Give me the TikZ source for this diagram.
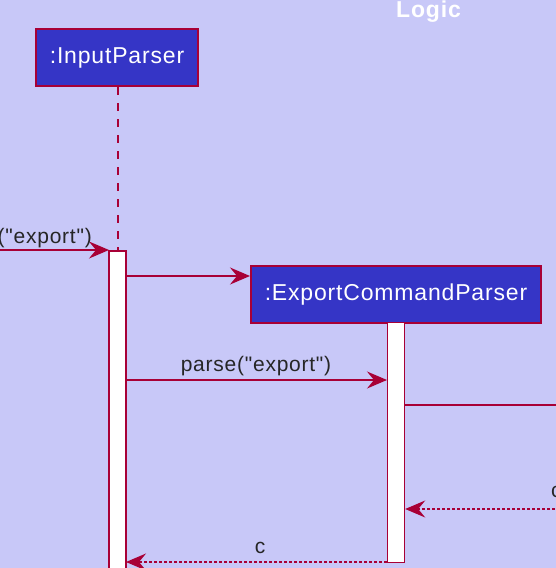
\documentclass[tikz,border=0pt]{standalone}
\usepackage{fontspec}
\setmainfont{Liberation Sans}[Ligatures=TeXOff, LetterSpace=3.6]
\usetikzlibrary{arrows.meta}
\definecolor{bgc}{HTML}{C8C8F8}
\definecolor{boxc}{HTML}{3535C6}
\definecolor{linec}{HTML}{A80036}
\tikzset{
  partbox/.style={draw=linec, line width=2pt, fill=boxc, text=white, font=\fontsize{23}{26}\selectfont, inner sep=0pt, anchor=north west},
  actbar/.style={draw=linec, line width=1.2pt, fill=white},
  msg/.style={draw=linec, line width=1.3pt, -{Stealth[length=20pt,width=17pt,inset=7pt]}},
  ret/.style={msg, dash pattern=on 3pt off 2pt},
  lbl/.style={font=\fontsize{21}{24}\selectfont, text=black!85, inner sep=0pt}
}
\begin{document}
\begin{tikzpicture}[x=1pt,y=-1pt]
\path[fill=bgc] (0,0) rectangle (556,568);
\useasboundingbox (0,0) rectangle (556,568);
\clip (0,0) rectangle (556,568);
% title
\node[font=\bfseries\fontsize{23}{26}\selectfont, text=white, anchor=base] (title) at (428.5,17) {Logic};
% participants
\node[partbox, minimum width=162pt, minimum height=57pt] (ip) at (35,28) {:InputParser};
\node[partbox, minimum width=290pt, minimum height=57pt] (ecp) at (250,265) {:ExportCommandParser};
% lifeline
\coordinate (ipact) at (117.5,251);
\draw[linec, line width=2pt, dash pattern=on 8pt off 8pt] (ip.south -| ipact) -- (ipact);
% activation bars
\draw[actbar] (109,251) rectangle (126,575);
\node[inner sep=0pt, minimum width=17pt, minimum height=240pt, anchor=north west, draw=linec, line width=1.2pt, fill=white] (ecpbar) at (387,322) {};
\coordinate (ipbarL) at (109,250);
% messages
\coordinate (inL) at (-5,250);
\draw[msg] (inL) -- (ipbarL);
\node[lbl, anchor=base east] (l0) at (92,243) {("export")};
\coordinate (a1) at (126,276);
\draw[msg] (a1) -- (a1 -| ecp.west);
\coordinate (a2) at (126,380);
\draw[msg] (a2) -- (a2 -| ecpbar.west);
\node[lbl, anchor=base] (l2) at (256,371) {parse("export")};
\coordinate (a3) at (556,405);
\draw[linec, line width=1.3pt] (a3 -| ecpbar.east) -- (a3);
\coordinate (r1) at (560,509);
\draw[ret] (r1) -- (r1 -| ecpbar.east);
\node[lbl, anchor=base west] (c1) at (551,497) {c};
\coordinate (r2) at (126,562);
\draw[ret] (r2 -| ecpbar.west) -- (r2);
\node[lbl, anchor=base] (c2) at (260,553) {c};
\end{tikzpicture}
\end{document}
